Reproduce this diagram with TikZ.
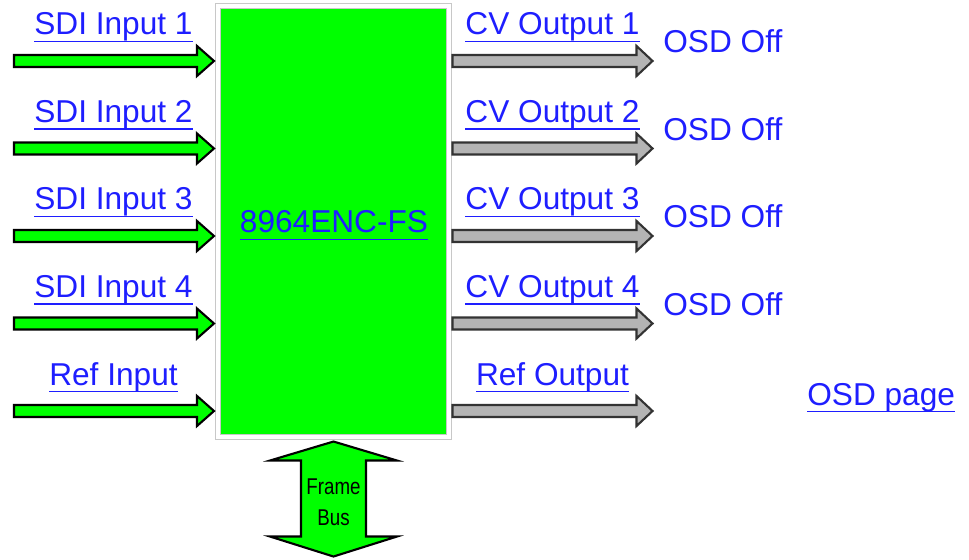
\documentclass[tikz,border=0pt]{standalone}
\usepackage{fontspec}
\setmainfont{Liberation Sans}
\usepackage{xcolor}
\definecolor{linkblue}{HTML}{1E1EFF}
\definecolor{cardgreen}{HTML}{00FF00}
\definecolor{outgray}{HTML}{B4B4B4}
\definecolor{framegray}{HTML}{C8C8C8}
\usetikzlibrary{calc,positioning}
\newlength{\lnkwd}
\newcommand{\lnk}[1]{\settowidth{\lnkwd}{#1}\rlap{#1}\rule[-4pt]{\lnkwd}{0.8pt}}

\tikzset{
  linklabel/.style={text=linkblue, font=\fontsize{18}{20}\selectfont, inner sep=0pt},
  statlabel/.style={linklabel, anchor=base west},
  inarrow/.style={draw=black, fill=cardgreen, line width=1.2pt, line join=miter},
  outarrow/.style={draw=black!80, fill=outgray, line width=1.2pt, line join=miter},
}

\begin{document}
\begin{tikzpicture}[x=0.02cm, y=-0.02cm]
  \useasboundingbox (0,0) rectangle (969,560);

  % Card body
  \node[draw=framegray, line width=0.6pt, double=white, double distance=2.4pt,
        fill=cardgreen, minimum width=231*0.02cm, minimum height=431*0.02cm,
        inner sep=0pt] (enc) at (333.5,221.5) {};
  \node[linklabel, anchor=base] (enclbl) at (334,233) {\lnk{8964ENC-FS}};

  % Inputs and outputs
  \foreach \i/\inname/\outname in {1/SDI Input 1/CV Output 1, 2/SDI Input 2/CV Output 2,
      3/SDI Input 3/CV Output 3, 4/SDI Input 4/CV Output 4, 5/Ref Input/Ref Output} {
    \pgfmathsetmacro{\y}{61+87.5*(\i-1)}
    \coordinate (in\i) at (14,\y);
    \coordinate (out\i) at (enc.east |- in\i);
    \draw[inarrow] (in\i) ++(0,-6) -- ++(183,0) -- ++(0,-9) -- ++(17,15)
      -- ++(-17,15) -- ++(0,-9) -- ++(-183,0) -- cycle;
    \draw[outarrow] (out\i) ++(3,-6) -- ++(184,0) -- ++(0,-9) -- ++(16,15)
      -- ++(-16,15) -- ++(0,-9) -- ++(-184,0) -- cycle;
    \node[linklabel, anchor=base] (inlbl\i) at (113.5,\y-26) {\lnk{\inname}};
    \node[linklabel, anchor=base] (outlbl\i) at (552.5,\y-26) {\lnk{\outname}};
  }
  \foreach \i in {1,...,4}
    \node[statlabel] (osd\i) at ($(in\i)+(649,-8)$) {OSD Off};
  \node[statlabel] (osdpage) at (807,405) {\lnk{OSD page}};

  % Frame bus
  \coordinate (bus) at (enc.south);
  \draw[inarrow] (bus) ++(0,4) -- ++(63.5,19) -- ++(-31,0) -- ++(0,76)
    -- ++(31,0) -- ++(-63.5,20) -- ++(-63.5,-20) -- ++(31,0) -- ++(0,-76)
    -- ++(-31,0) -- cycle;
  \node[font=\fontsize{13}{17.5}\selectfont, align=center, inner sep=0pt,
        xscale=0.82, transform shape] (buslbl) at (333.5,502) {Frame\\Bus};
\end{tikzpicture}
\end{document}
